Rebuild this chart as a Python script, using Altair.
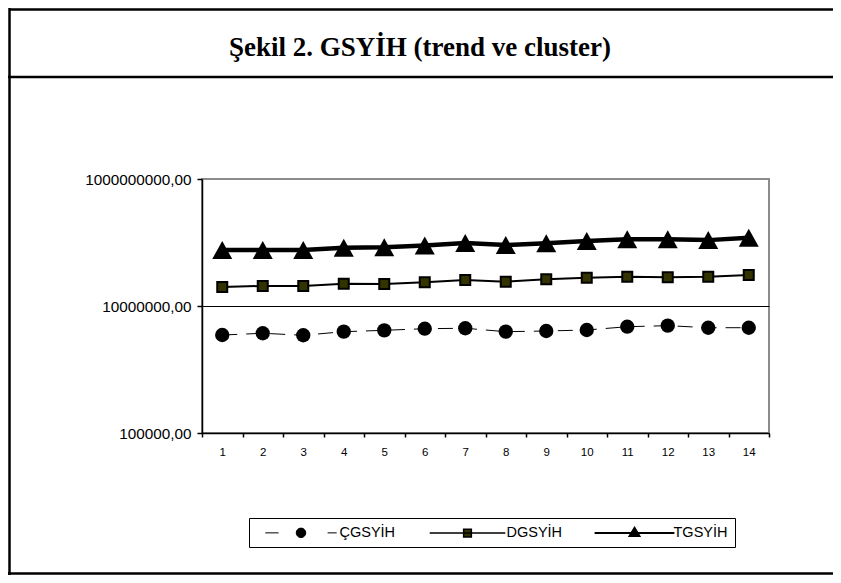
import altair as alt
import pandas as pd

periods = list(range(1, 15))
series_names = ["ÇGSYİH", "DGSYİH", "TGSYİH"]
cgsyih = [3.49e6, 3.72e6, 3.46e6, 3.94e6, 4.14e6, 4.39e6, 4.46e6,
          3.94e6, 4.04e6, 4.19e6, 4.72e6, 4.90e6, 4.55e6, 4.55e6]
dgsyih = [1.99e7, 2.07e7, 2.07e7, 2.24e7, 2.22e7, 2.36e7, 2.57e7,
          2.41e7, 2.63e7, 2.79e7, 2.89e7, 2.83e7, 2.89e7, 3.07e7]
tgsyih = [7.62e7, 7.62e7, 7.62e7, 8.3e7, 8.4e7, 9.0e7, 9.8e7,
          9.1e7, 9.7e7, 1.06e8, 1.13e8, 1.13e8, 1.09e8, 1.19e8]
y_ticks = [1e5, 1e7, 1e9]
title_text = "Şekil 2. GSYİH (trend ve cluster)"

rows = []
for name, vals in zip(series_names, [cgsyih, dgsyih, tgsyih]):
    for t, v in zip(periods, vals):
        rows.append({"t": t, "seri": name, "deger": v})
df = pd.DataFrame(rows)

W, H = 567, 254
PL, PT = 194, 171
TOTW, TOTH = 825, 567

base = alt.Chart(df).encode(
    x=alt.X("t:O", sort=periods,
            scale=alt.Scale(type="band", paddingInner=0, paddingOuter=0),
            axis=alt.Axis(title=None, labelAngle=0, tickBand="extent", tickSize=4,
                          labelPadding=9, labelFontSize=11.5, domainWidth=1.5,
                          tickWidth=1.5, grid=False)),
    y=alt.Y("deger:Q",
            scale=alt.Scale(type="log", domain=[1e5, 1e9], nice=False),
            axis=alt.Axis(title=None, values=y_ticks,
                          labelExpr="format(datum.value, '.0f') + ',00'",
                          tickSize=5, labelPadding=6, labelFontSize=15.3,
                          domainWidth=1.5, tickWidth=1.5, grid=True,
                          gridColor={"condition": {"test": "datum.value === 10000000", "value": "black"},
                                     "value": "transparent"},
                          gridWidth=1)),
)

styles = {
    "ÇGSYİH": dict(lw=1, dash=[15, 9], shape="circle", size=205, fill="black", sw=0),
    "DGSYİH": dict(lw=2, dash=None, shape="square", size=100, fill="#333300", sw=2),
    "TGSYİH": dict(lw=4.5, dash=None, shape="M0,-0.9L1,0.9L-1,0.9Z", size=400, fill="black", sw=0),
}

layers = []
deco_df = pd.DataFrame({"k": [0]})
deco = alt.Chart(deco_df)
layers.append(deco.mark_rule(color="black", strokeWidth=2.5).encode(
    x=alt.value(-PL + 1), x2=alt.value(TOTW - PL), y=alt.value(-PT + 1.5)))
layers.append(deco.mark_rule(color="black", strokeWidth=2.5).encode(
    x=alt.value(-PL + 1.5), y=alt.value(-PT), y2=alt.value(TOTH - PT)))
layers.append(deco.mark_rule(color="black", strokeWidth=2.5).encode(
    x=alt.value(-PL), x2=alt.value(TOTW - PL), y=alt.value(-102)))
layers.append(deco.mark_rule(color="black", strokeWidth=2.5).encode(
    x=alt.value(-PL), x2=alt.value(TOTW - PL), y=alt.value(TOTH - PT - 1.5)))
layers.append(deco.mark_text(font="Liberation Serif", fontWeight="bold", fontSize=27,
                             align="center", baseline="middle", color="black").encode(
    x=alt.value(218), y=alt.value(-131), text=alt.value(title_text)))

for name in series_names:
    s = styles[name]
    sub = base.transform_filter(alt.datum.seri == name)
    line_kw = dict(color="black", strokeWidth=s["lw"])
    if s["dash"]:
        line_kw["strokeDash"] = s["dash"]
    layers.append(sub.mark_line(**line_kw))
    pt_kw = dict(filled=True, shape=s["shape"], size=s["size"], fill=s["fill"],
                 opacity=1, stroke="black", strokeWidth=s["sw"])
    layers.append(sub.mark_point(**pt_kw))

legend_paths = [
    "M-5.1,0H-3.2M3.8,0H5.1M0.68,0A0.68,0.68,0,1,1,-0.68,0A0.68,0.68,0,1,1,0.68,0Z",
    "M-5.4,0H5.4M-0.55,-0.55H0.55V0.55H-0.55Z",
    "M-5.7,0H5.7M0,-0.75L0.7,0.4L-0.7,0.4Z",
]
leg = base.transform_filter("false").mark_point(filled=True, stroke="black", opacity=1).encode(
    shape=alt.Shape("seri:N", scale=alt.Scale(domain=series_names, range=legend_paths),
                    legend=alt.Legend(title=None)),
    color=alt.Color("seri:N", scale=alt.Scale(domain=series_names,
                                              range=["black", "#333300", "black"]),
                    legend=alt.Legend(title=None)),
    strokeWidth=alt.StrokeWidth("seri:N", scale=alt.Scale(domain=series_names, range=[1, 2, 5]),
                                legend=alt.Legend(title=None)),
)
layers.append(leg)

chart = alt.layer(*layers).properties(
    width=W, height=H, autosize="none",
    padding={"left": PL, "top": PT, "right": TOTW - PL - W, "bottom": TOTH - PT - H},
).configure_view(stroke="#8c8c8c", strokeWidth=2).configure_axis(
    labelFont="Liberation Sans", labelColor="black", domainColor="black", tickColor="black"
).configure_legend(
    orient="none", legendX=47, legendY=339, direction="horizontal",
    symbolSize=196, symbolOffset=37.5, labelOffset=31, columnPadding=26,
    padding=7, strokeColor="black", fillColor="white",
    labelFont="Liberation Sans", labelFontSize=14.5, labelColor="black",
    symbolStrokeColor="black",
)

chart.save("out.html", embed_options={"renderer": "svg", "actions": False})
